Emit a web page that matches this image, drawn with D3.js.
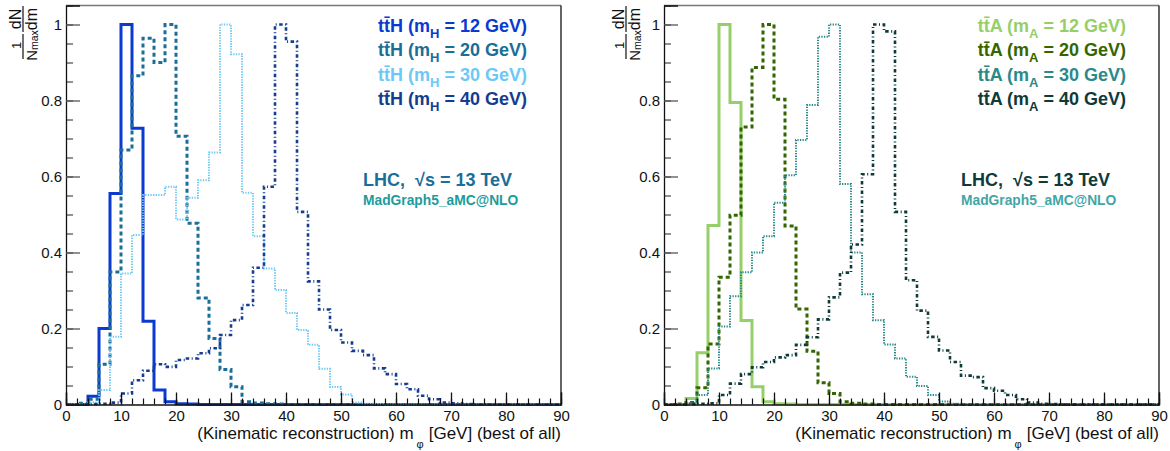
<!DOCTYPE html>
<html lang="en">
<head>
<meta charset="UTF-8">
<title>Kinematic reconstruction m_phi</title>
<script src="https://cdn.jsdelivr.net/npm/d3@7"></script>
<style>
  body { margin: 0; background: #fff; }
  svg text { font-family: "Liberation Sans", Arial, Helvetica, sans-serif; }
</style>
</head>
<body>
<svg id="chart" width="1170" height="451"></svg>
<script>
// bins of 2 GeV from 0 to 90 (45 bins), normalised to the maximum
const binWidth = 2;
const xTicks = [0, 10, 20, 30, 40, 50, 60, 70, 80, 90];
const yTicks = [0, 0.2, 0.4, 0.6, 0.8, 1];

// left panel: ttH
const ttH12 = [0, 0, 0.022, 0.2, 0.555, 1.0, 0.727, 0.219, 0.038, 0.007, 0.002, 0.001, 0, 0, 0, 0, 0, 0, 0, 0, 0, 0, 0, 0, 0, 0, 0, 0, 0, 0, 0, 0, 0, 0, 0, 0, 0, 0, 0, 0, 0, 0, 0, 0, 0];
const ttH20 = [0, 0.003, 0.014, 0.106, 0.349, 0.67, 0.865, 0.964, 0.9, 1.0, 0.706, 0.477, 0.28, 0.174, 0.092, 0.047, 0.007, 0.004, 0.002, 0.001, 0, 0, 0, 0, 0, 0, 0, 0, 0, 0, 0, 0, 0, 0, 0, 0, 0, 0, 0, 0, 0, 0, 0, 0, 0];
const ttH30 = [0, 0, 0.005, 0.038, 0.178, 0.345, 0.446, 0.551, 0.551, 0.573, 0.487, 0.544, 0.59, 0.663, 1.0, 0.922, 0.557, 0.443, 0.358, 0.301, 0.241, 0.196, 0.157, 0.094, 0.046, 0.026, 0.005, 0.002, 0.001, 0, 0, 0, 0, 0, 0, 0, 0, 0, 0, 0, 0, 0, 0, 0, 0];
const ttH40 = [0, 0, 0.001, 0.002, 0.005, 0.029, 0.064, 0.089, 0.106, 0.099, 0.117, 0.121, 0.135, 0.148, 0.183, 0.222, 0.262, 0.36, 0.573, 1.0, 0.955, 0.507, 0.324, 0.25, 0.196, 0.163, 0.141, 0.13, 0.095, 0.08, 0.054, 0.04, 0.023, 0.014, 0.005, 0.003, 0.001, 0, 0, 0, 0, 0, 0, 0, 0];

// right panel: ttA
const ttA12 = [0, 0, 0.016, 0.136, 0.471, 1.0, 0.795, 0.221, 0.047, 0.007, 0.002, 0.001, 0, 0, 0, 0, 0, 0, 0, 0, 0, 0, 0, 0, 0, 0, 0, 0, 0, 0, 0, 0, 0, 0, 0, 0, 0, 0, 0, 0, 0, 0, 0, 0, 0];
const ttA20 = [0, 0.001, 0.005, 0.044, 0.159, 0.335, 0.498, 0.73, 0.887, 1.0, 0.803, 0.47, 0.251, 0.14, 0.057, 0.029, 0.007, 0.003, 0.001, 0, 0, 0, 0, 0, 0, 0, 0, 0, 0, 0, 0, 0, 0, 0, 0, 0, 0, 0, 0, 0, 0, 0, 0, 0, 0];
const ttA30 = [0, 0, 0.003, 0.025, 0.095, 0.205, 0.285, 0.348, 0.4, 0.443, 0.531, 0.603, 0.696, 0.788, 0.968, 1.0, 0.58, 0.4, 0.29, 0.222, 0.158, 0.121, 0.073, 0.049, 0.025, 0.008, 0.002, 0.001, 0, 0, 0, 0, 0, 0, 0, 0, 0, 0, 0, 0, 0, 0, 0, 0, 0];
const ttA40 = [0, 0, 0.001, 0.002, 0.003, 0.025, 0.055, 0.08, 0.098, 0.112, 0.124, 0.13, 0.157, 0.177, 0.224, 0.282, 0.347, 0.421, 0.606, 1.0, 0.982, 0.507, 0.327, 0.247, 0.178, 0.142, 0.112, 0.076, 0.072, 0.043, 0.036, 0.025, 0.014, 0.005, 0.002, 0.001, 0, 0, 0, 0, 0, 0, 0, 0, 0];

const masses = ["12", "20", "30", "40"];

const panels = [
  {
    left: 66, right: 561, titleX: 23, legendX: 527, infoX: 363,
    particle: "H",
    data: [ttH12, ttH20, ttH30, ttH40],
    colors: ["#0a3ad0", "#1a6e98", "#6cc9f5", "#143c90"],
    lhcColor: "#1a6e98", mgColor: "#1c9c9c"
  },
  {
    left: 664, right: 1159, titleX: 626, legendX: 1126, infoX: 961,
    particle: "A",
    data: [ttA12, ttA20, ttA30, ttA40],
    colors: ["#95cf6a", "#336600", "#2a8a8a", "#0e3a3a"],
    lhcColor: "#0e3a3a", mgColor: "#42a6a6"
  }
];

// line styles per mass point (solid, square dash, fine dots, dash-dot)
const styles = [
  { width: 3, dash: null },
  { width: 3, dash: "4,3" },
  { width: 2, dash: "1.3,1.3" },
  { width: 2.6, dash: "3.5,2.5,1,2.5" }
];

const frameTop = 5.5, frameBottom = 404.5;
const svg = d3.select("#chart");

panels.forEach(p => {
  const x = d3.scaleLinear().domain([0, 90]).range([p.left, p.right]);
  const y = d3.scaleLinear().domain([0, 1.05]).range([frameBottom, frameTop]);
  const g = svg.append("g");

  // histograms
  const line = d3.line()
    .x(d => x(d[0]))
    .y(d => y(d[1]))
    .curve(d3.curveStepAfter);

  p.data.forEach((vals, i) => {
    const pts = vals.map((v, k) => [k * binWidth, v]);
    pts.push([90, vals[vals.length - 1]]);
    g.append("path")
      .attr("d", line(pts))
      .attr("fill", "none")
      .attr("stroke", p.colors[i])
      .attr("stroke-width", styles[i].width)
      .attr("stroke-dasharray", styles[i].dash);
  });

  // frame
  g.append("line").attr("x1", p.left).attr("x2", p.right).attr("y1", frameTop).attr("y2", frameTop)
    .attr("stroke", "#777").attr("stroke-width", 1.3);
  g.append("line").attr("x1", p.right).attr("x2", p.right).attr("y1", frameTop).attr("y2", frameBottom)
    .attr("stroke", "#111").attr("stroke-width", 1.3);

  // y axis, ticks inside
  const yMinor = d3.range(0, 1.0501, 0.05);
  g.append("g")
    .attr("transform", `translate(${p.left},0)`)
    .call(d3.axisLeft(y).tickValues(yMinor).tickSize(-7).tickFormat(""))
    .call(a => a.select(".domain").remove())
    .call(a => a.selectAll("line").attr("stroke", "#555").attr("stroke-width", 1.3));
  g.append("g")
    .attr("transform", `translate(${p.left},0)`)
    .call(d3.axisLeft(y).tickValues(yTicks).tickSize(-14).tickPadding(4).tickFormat(d3.format("~g")))
    .call(a => a.select(".domain").attr("stroke", "#111").attr("stroke-width", 1.3))
    .call(a => a.selectAll("line").attr("stroke", "#555").attr("stroke-width", 1.3))
    .call(a => a.selectAll("text").attr("font-size", 15).attr("fill", "#111")
      .attr("font-family", "Liberation Sans, Arial, sans-serif"));

  // x axis, ticks inside
  g.append("g")
    .attr("transform", `translate(0,${frameBottom})`)
    .call(d3.axisBottom(x).tickValues(d3.range(0, 91, 2)).tickSize(-6).tickFormat(""))
    .call(a => a.select(".domain").remove())
    .call(a => a.selectAll("line").attr("stroke", "#111").attr("stroke-width", 1.2));
  g.append("g")
    .attr("transform", `translate(0,${frameBottom})`)
    .call(d3.axisBottom(x).tickValues(xTicks).tickSize(-12).tickPadding(6))
    .call(a => a.select(".domain").attr("stroke", "#111").attr("stroke-width", 1.3))
    .call(a => a.selectAll("line").attr("stroke", "#111").attr("stroke-width", 1.3))
    .call(a => a.selectAll("text").attr("font-size", 15).attr("fill", "#111")
      .attr("font-family", "Liberation Sans, Arial, sans-serif"));

  // x title
  const xt = g.append("text")
    .attr("x", p.right).attr("y", 439)
    .attr("text-anchor", "end")
    .attr("font-size", 17).attr("fill", "#111");
  xt.append("tspan").text("(Kinematic reconstruction) m");
  xt.append("tspan").attr("dx", 3).attr("dy", 9).attr("font-size", 11).text("\u03c6");
  xt.append("tspan").attr("dx", 5).attr("dy", -9).text("[GeV] (best of all)");

  // y title: 1/N_max dN/dm, rotated
  const yt = g.append("g")
    .attr("transform", `translate(${p.titleX},33) rotate(-90)`)
    .attr("fill", "#111");
  yt.append("text").attr("x", 14).attr("y", -2).attr("text-anchor", "middle")
    .attr("font-size", 16).text("dN");
  yt.append("text").attr("x", 14).attr("y", 14).attr("text-anchor", "middle")
    .attr("font-size", 16).text("dm");
  yt.append("line").attr("x1", 1).attr("x2", 27).attr("y1", 0).attr("y2", 0)
    .attr("stroke", "#111").attr("stroke-width", 1.2);
  yt.append("text").attr("x", -12.5).attr("y", -2).attr("text-anchor", "middle")
    .attr("font-size", 13).text("1");
  const den = yt.append("text").attr("x", -12.5).attr("y", 14).attr("text-anchor", "middle")
    .attr("font-size", 15);
  den.append("tspan").text("N");
  den.append("tspan").attr("font-size", 10.5).attr("dy", 1).text("max");
  yt.append("line").attr("x1", -26).attr("x2", -1).attr("y1", 0).attr("y2", 0)
    .attr("stroke", "#111").attr("stroke-width", 1.2);

  // legend
  masses.forEach((m, i) => {
    const t = g.append("text")
      .attr("x", p.legendX).attr("y", 32 + i * 24.4)
      .attr("text-anchor", "end")
      .attr("font-size", 18).attr("font-weight", "bold")
      .attr("fill", p.colors[i]);
    t.append("tspan").text("tt\u0304" + p.particle + " (m");
    t.append("tspan").attr("dy", 6).attr("font-size", 13).text(p.particle);
    t.append("tspan").attr("dy", -6).text(`\u00a0= ${m} GeV)`);
  });

  g.append("text")
    .attr("x", p.infoX).attr("y", 186)
    .attr("font-size", 18).attr("font-weight", "bold")
    .attr("fill", p.lhcColor)
    .text("LHC,\u00a0\u00a0\u221as = 13 TeV");
  g.append("text")
    .attr("x", p.infoX).attr("y", 204.5)
    .attr("font-size", 13.8).attr("font-weight", "bold")
    .attr("fill", p.mgColor)
    .text("MadGraph5_aMC@NLO");
});
</script>
</body>
</html>
